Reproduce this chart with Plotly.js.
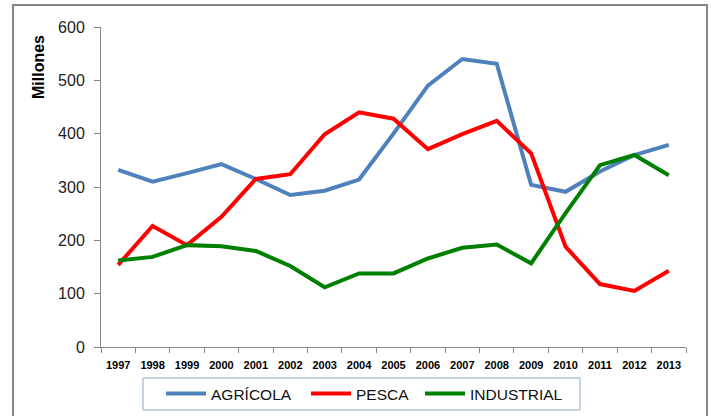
<!DOCTYPE html>
<html>
<head>
<meta charset="utf-8">
<script src="https://cdn.plot.ly/plotly-3.0.1.min.js"></script>
<style>html,body{margin:0;padding:0;background:#fff;}#chart{width:711px;height:416px;}</style>
</head>
<body>
<div id="chart"></div>
<script>
const years = ["1997","1998","1999","2000","2001","2002","2003","2004","2005","2006","2007","2008","2009","2010","2011","2012","2013"];
const agricola = [332,310,326,343,315,285,293,314,400,490,540,531,304,291,329,360,379];
const pesca = [154,227,191,244,315,324,399,440,428,371,399,424,363,188,118,105,143];
const industrial = [162,169,191,189,180,152,112,138,138,166,186,192,157,251,341,360,322];
const seriesNames = ["AGRÍCOLA","PESCA","INDUSTRIAL"];
const seriesColors = ["#4F81BD","#FF0000","#008000"];
const seriesData = [agricola, pesca, industrial];
const legendIds = ["legend","legend2","legend3"];
const legendX = [0.1026, 0.3504, 0.5453];

const FONT = 'Liberation Sans, Arial, sans-serif';

const traces = seriesData.map((d,i)=>({
  x: years, y: d, type: 'scatter', mode: 'lines', name: seriesNames[i],
  legend: legendIds[i],
  line: {color: seriesColors[i], width: 4}
}));

function mkLegend(x){
  return {
    orientation: 'h', x: x, xanchor: 'left', y: -0.147, yanchor: 'middle',
    borderwidth: 0, bgcolor: 'rgba(0,0,0,0)',
    font: {size: 15.5, family: FONT, color: '#111'},
    itemwidth: 40
  };
}

const layout = {
  width: 711, height: 416,
  margin: {l: 101, r: 25, t: 27, b: 69, autoexpand: false},
  paper_bgcolor: '#fff', plot_bgcolor: '#fff',
  font: {family: FONT, color: '#000'},
  showlegend: true,
  legend: mkLegend(legendX[0]),
  legend2: mkLegend(legendX[1]),
  legend3: mkLegend(legendX[2]),
  xaxis: {
    type: 'category', showgrid: false, zeroline: false,
    showline: true, linecolor: '#868686', linewidth: 1,
    ticks: 'outside', tickson: 'boundaries', ticklen: 5, tickcolor: '#868686',
    ticklabelstandoff: 8,
    tickfont: {size: 11, family: FONT, weight: 'bold', color: '#000'},
    range: [-0.5, 16.5]
  },
  yaxis: {
    range: [0, 600], dtick: 100, showgrid: false, zeroline: false,
    showline: true, linecolor: '#868686', linewidth: 1,
    ticks: 'outside', ticklen: 6, tickcolor: '#868686',
    ticklabelstandoff: 6,
    tickfont: {size: 16, family: FONT, color: '#222'}
  },
  annotations: [{
    text: 'Millones', xref: 'paper', yref: 'paper',
    x: -0.1077, y: 0.875, xanchor: 'center', yanchor: 'middle',
    textangle: -90, showarrow: false,
    font: {size: 16, family: FONT, weight: 'bold', color: '#000'}
  }],
  shapes: [{
    type: 'rect', xref: 'paper', yref: 'paper',
    x0: -0.1504, x1: 1.0359, y0: -0.25, y1: 1.06875,
    line: {color: '#868686', width: 2}, fillcolor: 'rgba(0,0,0,0)', layer: 'below'
  },{
    type: 'rect', xref: 'paper', yref: 'paper',
    x0: (143-101)/585, x1: (580-101)/585, y0: (347-410)/320, y1: (347-378)/320,
    line: {color: '#8EA9C8', width: 1}, fillcolor: 'rgba(0,0,0,0)', layer: 'below'
  }]
};

Plotly.newPlot('chart', traces, layout, {displayModeBar: false, staticPlot: true});
</script>
</body>
</html>
